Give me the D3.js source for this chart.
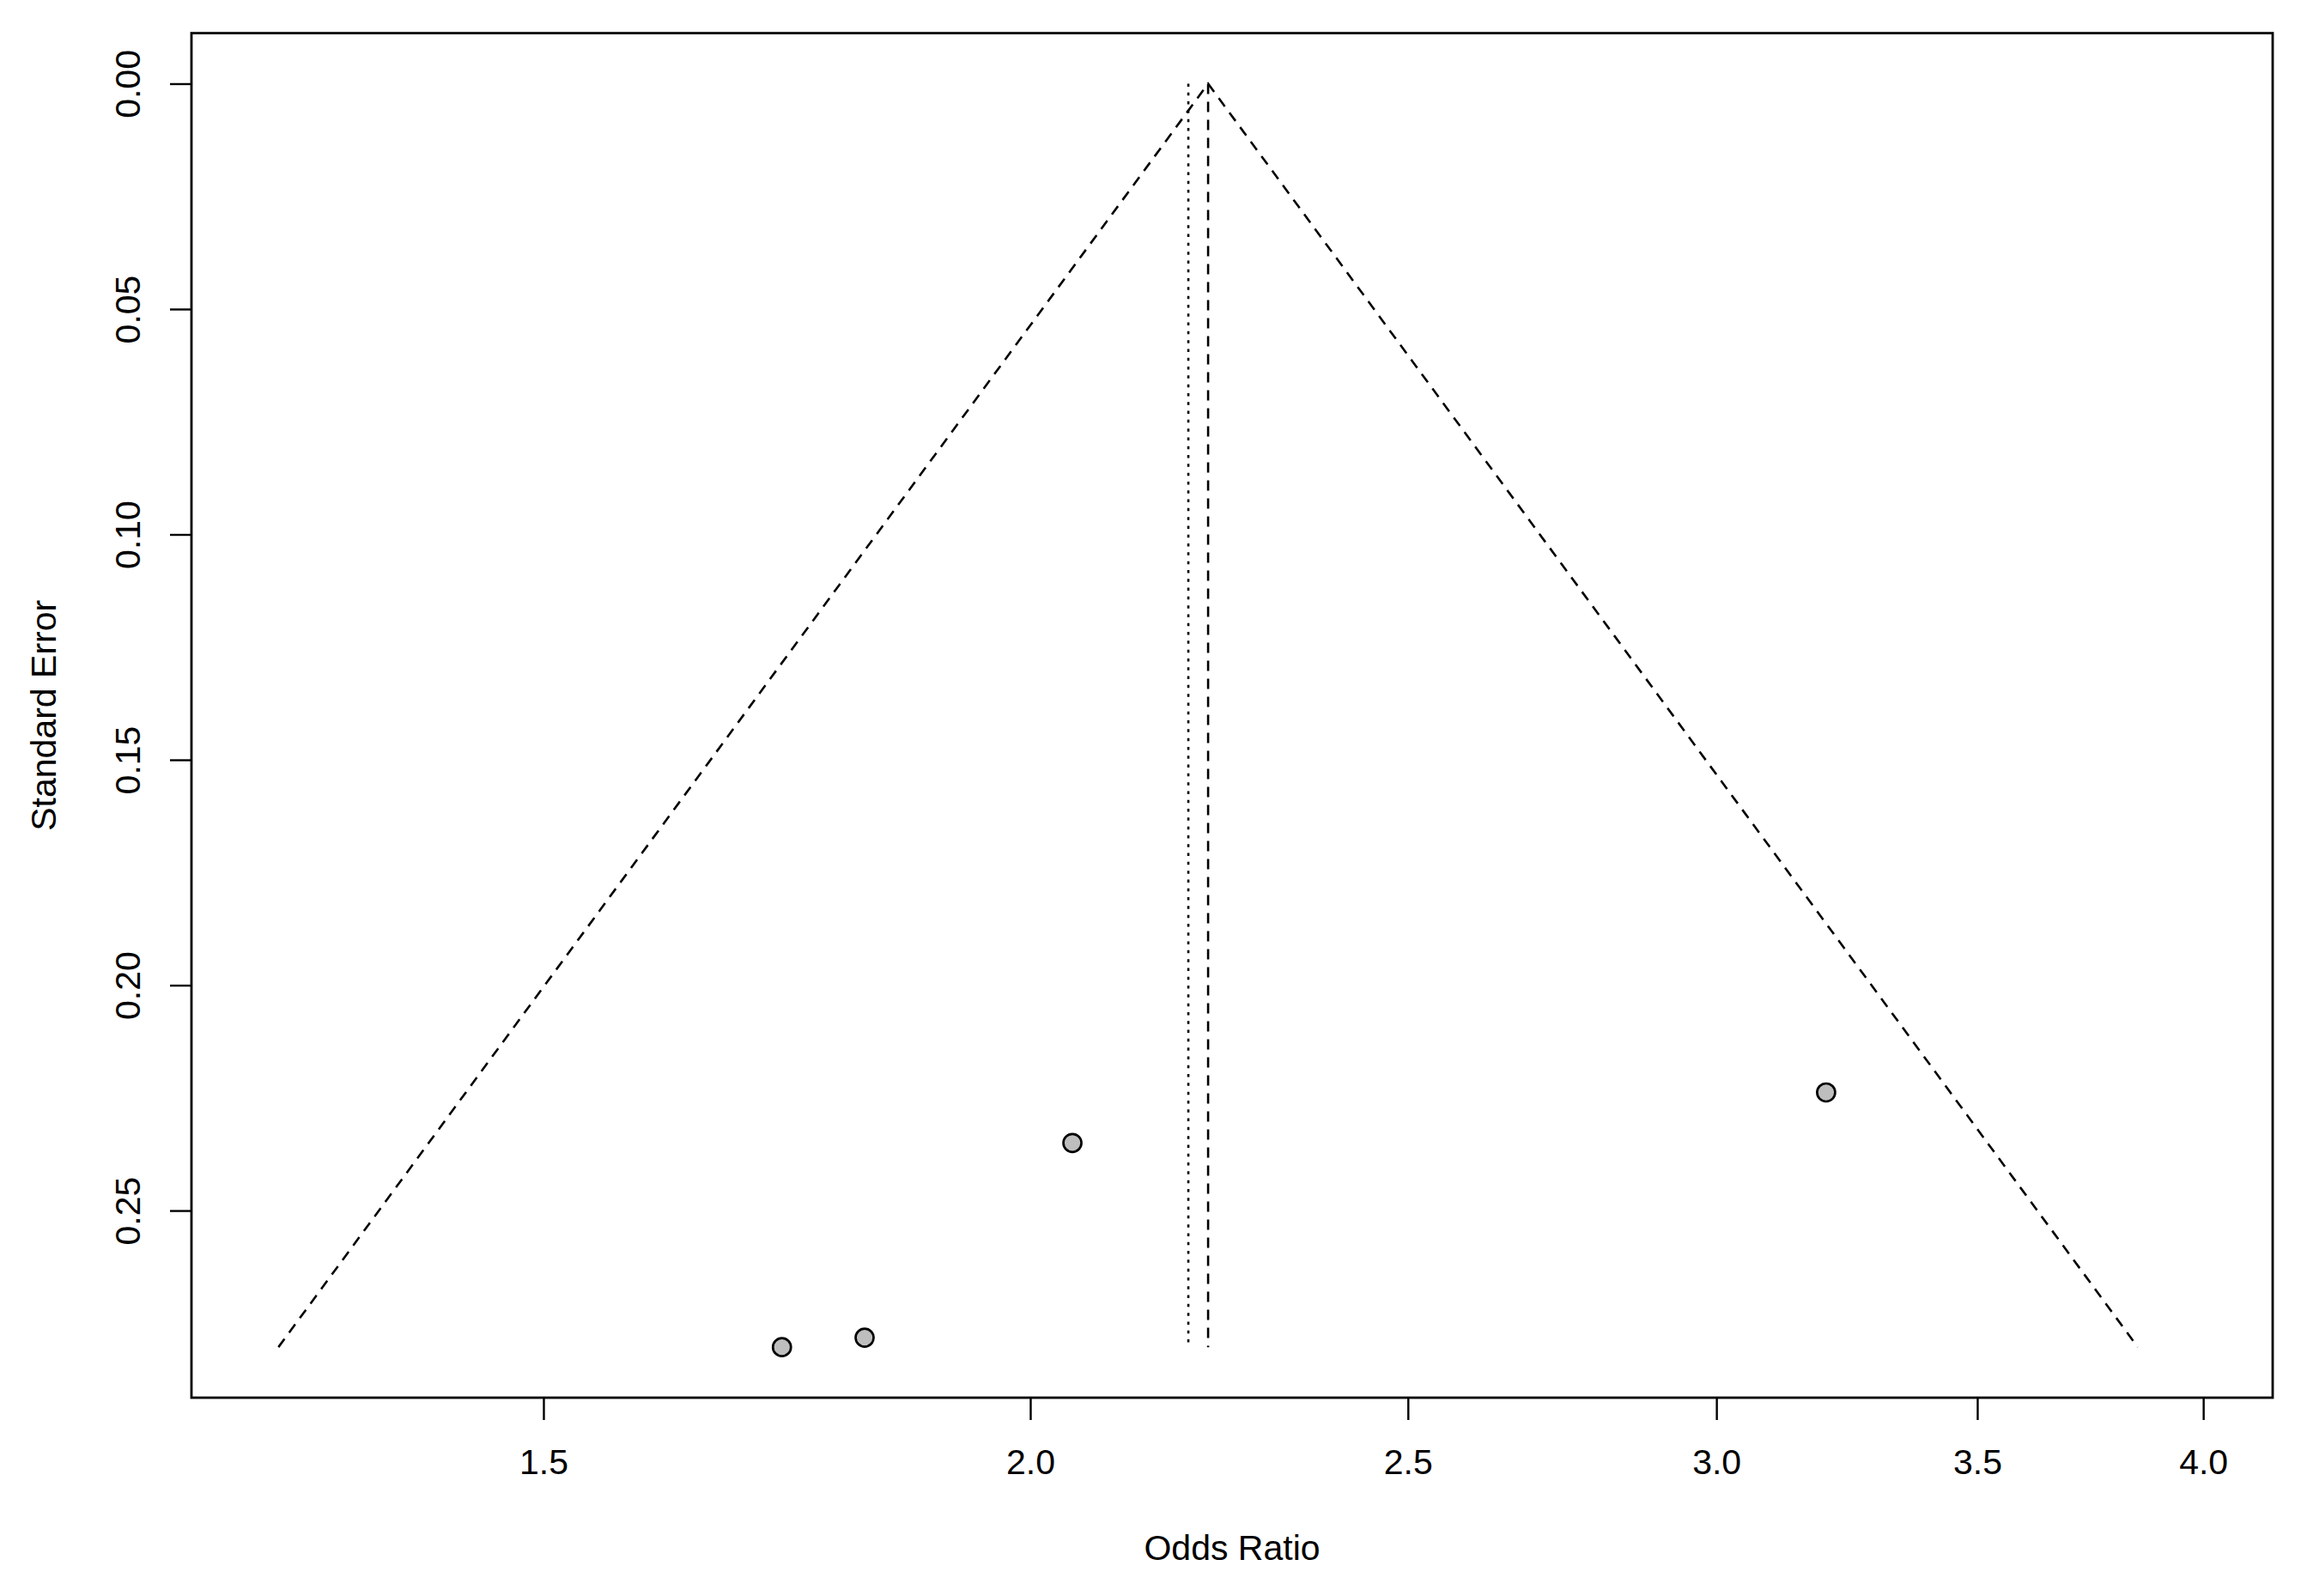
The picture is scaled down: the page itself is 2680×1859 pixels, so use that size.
<!doctype html>
<html lang="en">
  <head>
    <meta charset="utf-8">
    <title>funnel</title>
    <style>
        body {
            margin: 0;
            background-color: white;
        }
        text {
            font-family: "Liberation Sans", Arial, sans-serif;
            fill: black;
        }
        .axis path, .axis line {
            stroke: black;
            stroke-width: 2.4;
        }
        .axis text {
            font-size: 41px;
        }
        .frame {
            fill: none;
            stroke: black;
            stroke-width: 2.8;
        }
        .funnel {
            fill: none;
            stroke: black;
            stroke-width: 2.6;
            stroke-dasharray: 12 9;
        }
        .fixedLine {
            stroke: black;
            stroke-width: 2.6;
            stroke-dasharray: 12 9;
        }
        .randomLine {
            stroke: black;
            stroke-width: 2.6;
            stroke-dasharray: 3.5 6.8;
        }
        .study {
            fill: #bebebe;
            stroke: black;
            stroke-width: 2.7;
        }
    </style>
    <script src="https://d3js.org/d3.v7.min.js"></script>
  </head>
  <body>
    <div id="graph"></div>
  </body>
</html>

<script>
// studies (odds ratio, standard error)
var studyOR = [1.727, 1.8135, 2.0504, 3.2009];
var studySE = [0.2803, 0.2782, 0.2350, 0.2238];

// pooled estimates
var fixedOR = 2.2216;
var randomOR = 2.1958;

var xTicks = [1.5, 2.0, 2.5, 3.0, 3.5, 4.0];
var yTicks = [0.00, 0.05, 0.10, 0.15, 0.20, 0.25];

var svgWidth = 2680;
var svgHeight = 1859;

var lMargin = 223
var rMargin = 33
var tMargin = 38.6
var bMargin = 231

var gWidth = svgWidth - (lMargin + rMargin)
var gHeight = svgHeight - (tMargin + bMargin)

var svg = d3.select("#graph")
            .append("svg")
            .attr("width", svgWidth)
            .attr("height", svgHeight)

var g = svg.append("g")
            .attr("transform", "translate(" + lMargin + ", " + tMargin + ")")

var x = d3.scaleLog()
        .domain([1.2183, 4.1675])
        .range([0, gWidth])

var y = d3.scaleLinear()
        .domain([-0.01121, 0.29151])
        .range([0, gHeight])

var maxSE = d3.max(studySE);
var zcrit = 1.96;
var lFixed = Math.log(fixedOR);

// funnel
var funnelPts = [
    [Math.exp(lFixed - zcrit * maxSE), maxSE],
    [fixedOR, 0],
    [Math.exp(lFixed + zcrit * maxSE), maxSE]
];

g.append("path")
    .attr("class", "funnel")
    .attr("d", d3.line()
        .x(function(d) { return x(d[0]) })
        .y(function(d) { return y(d[1]) })(funnelPts))

g.append("line")
    .attr("class", "fixedLine")
    .attr("x1", x(fixedOR)).attr("x2", x(fixedOR))
    .attr("y1", y(0)).attr("y2", y(maxSE))

g.append("line")
    .attr("class", "randomLine")
    .attr("x1", x(randomOR)).attr("x2", x(randomOR))
    .attr("y1", y(0)).attr("y2", y(maxSE))

// study points
g.selectAll("circle")
    .data(studyOR)
    .enter()
    .append("circle")
    .attr("class", "study")
    .attr("cx", function(d) { return x(d) })
    .attr("cy", function(d, i) { return y(studySE[i]) })
    .attr("r", 10.5)

// frame
g.append("rect")
    .attr("class", "frame")
    .attr("x", 0).attr("y", 0)
    .attr("width", gWidth).attr("height", gHeight)

// axes
var xAxis = d3.axisBottom(x)
                .tickValues(xTicks)
                .tickFormat(d3.format(".1f"))
                .tickSize(26)
                .tickPadding(34)

var xg = g.append("g")
    .attr("class", "axis")
    .attr("transform", "translate(0, " + gHeight + ")")
    .call(xAxis)
xg.select(".domain").remove()

var yAxis = d3.axisLeft(y)
                .tickValues(yTicks)
                .tickFormat(d3.format(".2f"))
                .tickSize(25)

var yg = g.append("g")
    .attr("class", "axis")
    .call(yAxis)
yg.select(".domain").remove()

yg.selectAll(".tick text")
    .attr("transform", "rotate(-90)")
    .attr("text-anchor", "middle")
    .attr("x", 0)
    .attr("y", -60)
    .attr("dy", null)

// axis titles
svg.append("text")
    .attr("x", lMargin + gWidth / 2)
    .attr("y", 1817)
    .attr("text-anchor", "middle")
    .style("font-size", "41px")
    .text("Odds Ratio")

svg.append("text")
    .attr("transform", "translate(65, " + (tMargin + gHeight / 2) + ") rotate(-90)")
    .attr("text-anchor", "middle")
    .style("font-size", "41px")
    .text("Standard Error")
</script>
